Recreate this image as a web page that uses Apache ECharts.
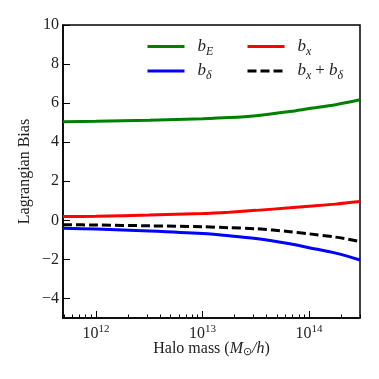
<!DOCTYPE html>
<html>
<head>
<meta charset="utf-8">
<script src="https://cdn.jsdelivr.net/npm/echarts@6/dist/echarts.min.js"></script>
<style>
  html, body { margin: 0; padding: 0; background: #fff; }
</style>
</head>
<body>
<div id="chart" style="width: 379px; height: 379px"></div>
<script>
// log10 of halo mass (M_sun/h)
var logMass = [11.69, 12, 12.5, 13, 13.25, 13.5, 13.82, 14, 14.25, 14.478];
var bE = [5.05, 5.07, 5.12, 5.2, 5.26, 5.36, 5.57, 5.72, 5.92, 6.17];
var bX = [0.19, 0.21, 0.27, 0.35, 0.42, 0.51, 0.64, 0.72, 0.83, 0.96];
var bDelta = [-0.41, -0.45, -0.55, -0.68, -0.79, -0.93, -1.2, -1.4, -1.68, -2.03];
var bSum = [-0.22, -0.24, -0.28, -0.33, -0.38, -0.43, -0.58, -0.69, -0.86, -1.08];

var xMajor = [12, 13, 14];
var yTicks = [-4, -2, 0, 2, 4, 6, 8, 10];

var xMin = 11.69, xMax = 14.478;
var serif = 'Liberation Serif';

var xMinor = [];
for (var n = 11; n <= 14; n++) {
  for (var k = 2; k <= 9; k++) {
    var v = n + Math.log10(k);
    if (v > xMin && v < xMax) xMinor.push(v);
  }
}

function pairs(ys) {
  return logMass.map(function (x, i) { return [x, ys[i]]; });
}

var chart = echarts.init(document.getElementById('chart'));

var legendRich = {
  sp: { width: 8 },
  it: { fontFamily: serif, fontStyle: 'italic', fontSize: 17, color: '#222' },
  sub: { fontFamily: serif, fontStyle: 'italic', fontSize: 12, color: '#222', padding: [10, 0, 0, 0] },
  op: { fontFamily: serif, fontSize: 17, color: '#222', padding: [0, 4, 0, 4] }
};
var legendFmt = {
  bE: '{sp|}{it|b}{sub|E}',
  bX: '{sp|}{it|b}{sub|x}',
  bD: '{sp|}{it|b}{sub|δ}',
  bS: '{sp|}{it|b}{sub|x}{op|+}{it|b}{sub|δ}'
};

function makeLegend(names, left) {
  return {
    data: names,
    orient: 'vertical',
    left: left, top: 38, padding: 0,
    itemWidth: 37, itemHeight: 10, itemGap: 5,
    itemStyle: { opacity: 0 },
    lineStyle: { width: 3 },
    formatter: function (name) { return legendFmt[name]; },
    textStyle: { rich: legendRich }
  };
}

chart.setOption({
  animation: false,
  backgroundColor: '#fff',
  grid: {
    left: 63, right: 19, top: 25, bottom: 61,
    show: true, borderColor: '#000', borderWidth: 1.5,
    backgroundColor: 'transparent'
  },
  legend: [makeLegend(['bE', 'bD'], 146), makeLegend(['bX', 'bS'], 246)],
  xAxis: [
    {
      type: 'value', min: xMin, max: xMax,
      splitLine: { show: false },
      axisLine: { show: true, onZero: false, lineStyle: { color: '#000', width: 1.5 } },
      axisTick: { show: true, inside: true, length: 7, customValues: xMajor, lineStyle: { color: '#000', width: 1 } },
      axisLabel: {
        customValues: xMajor,
        margin: 6,
        formatter: function (v) { return '{b|10}{s|' + Math.round(v) + '}'; },
        rich: {
          b: { fontFamily: serif, fontSize: 16, color: '#222' },
          s: { fontFamily: serif, fontSize: 11, color: '#222', padding: [0, 0, 9, 0] }
        }
      },
      name: '{t|Halo mass (}{i|M}{sub|⊙}{i|/h}{t|)}',
      nameLocation: 'middle',
      nameGap: 21,
      nameMoveOverlap: false,
      nameTextStyle: {
        rich: {
          t: { fontFamily: serif, fontSize: 16, color: '#222' },
          i: { fontFamily: serif, fontStyle: 'italic', fontSize: 16, color: '#222' },
          sub: { fontFamily: serif, fontSize: 11, color: '#222', padding: [8, 0, 0, 0] }
        }
      }
    },
    {
      type: 'value', min: xMin, max: xMax, position: 'bottom',
      splitLine: { show: false },
      axisLine: { show: false, onZero: false },
      axisLabel: { show: false },
      axisTick: { show: true, inside: true, length: 3.5, customValues: xMinor, lineStyle: { color: '#000', width: 1 } }
    }
  ],
  yAxis: {
    type: 'value', min: -5, max: 10,
    splitLine: { show: false },
    axisLine: { show: true, onZero: false, lineStyle: { color: '#000', width: 1.5 } },
    axisTick: { show: true, inside: true, length: 7, customValues: yTicks, lineStyle: { color: '#000', width: 1 } },
    axisLabel: {
      customValues: yTicks,
      margin: 4,
      fontFamily: serif, fontSize: 16, color: '#222',
      formatter: function (v) { return v < 0 ? '\u2212' + Math.abs(v) : String(v); }
    },
    name: 'Lagrangian Bias',
    nameLocation: 'middle',
    nameGap: 30,
    nameMoveOverlap: false,
    nameTextStyle: { fontFamily: serif, fontSize: 16, color: '#222' }
  },
  series: [
    {
      name: 'bE', type: 'line', data: pairs(bE), smooth: 0.3, symbol: 'none',
      lineStyle: { color: '#008000', width: 3 }, itemStyle: { color: '#008000' }
    },
    {
      name: 'bX', type: 'line', data: pairs(bX), smooth: 0.3, symbol: 'none',
      lineStyle: { color: '#ff0000', width: 3 }, itemStyle: { color: '#ff0000' }
    },
    {
      name: 'bD', type: 'line', data: pairs(bDelta), smooth: 0.3, symbol: 'none',
      lineStyle: { color: '#0000ff', width: 3 }, itemStyle: { color: '#0000ff' }
    },
    {
      name: 'bS', type: 'line', data: pairs(bSum), smooth: 0.3, symbol: 'none',
      lineStyle: { color: '#000', width: 3, type: [9, 4] }, itemStyle: { color: '#000' }
    }
  ]
});
</script>
</body>
</html>
